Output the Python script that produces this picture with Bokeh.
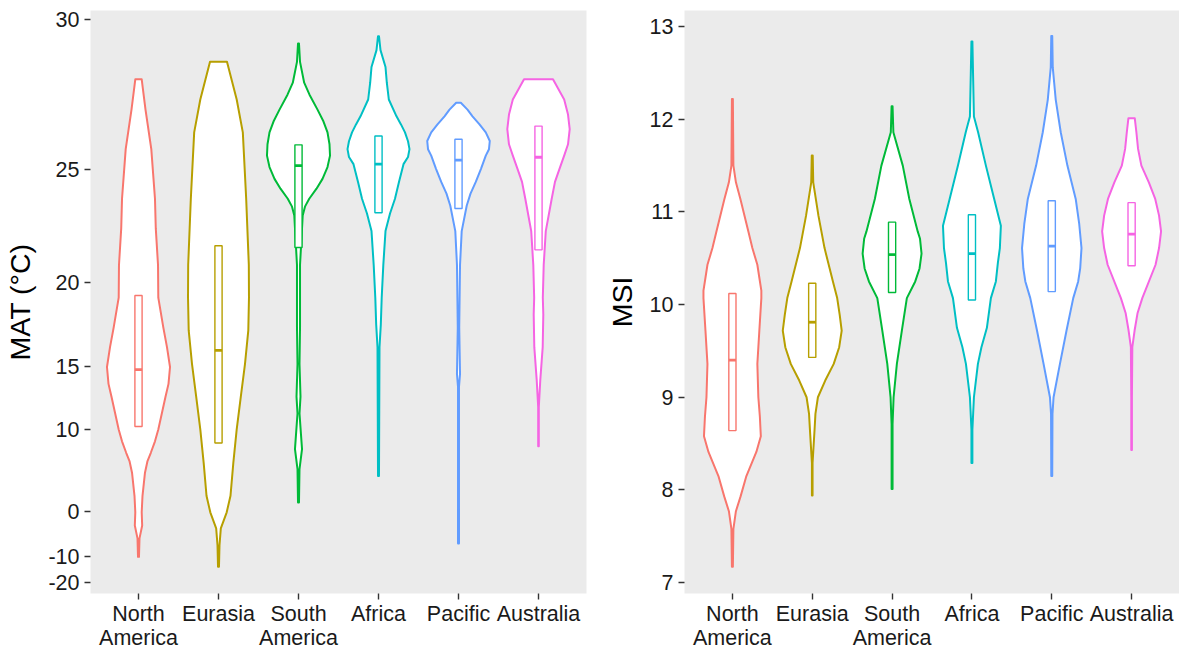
import numpy as np
from bokeh.plotting import figure
from bokeh.layouts import row
from bokeh.models import Range1d, FixedTicker, CustomJSTickFormatter
from bokeh.embed import file_html
from bokeh.resources import INLINE

# ---------------- data ----------------
REGIONS = ["North America", "Eurasia", "South America", "Africa", "Pacific", "Australia"]
TICK_LABELS = ["North\nAmerica", "Eurasia", "South\nAmerica", "Africa", "Pacific", "Australia"]
COLORS = ["#F8766D", "#B79F00", "#00BA38", "#00BFC4", "#619CFF", "#F564E3"]

MAT_TICKS = [-20, -10, 0, 10, 15, 20, 25, 30]
MSI_TICKS = [7, 8, 9, 10, 11, 12, 13]

# violin outlines: value levels (top -> bottom) and half widths (category units)
NA_mat_y = [28.18, 27.18, 25.78, 23.85, 22.58, 20.87, 19.19, 17.50, 16.28, 14.96, 13.75, 12.77, 9.98, 8.84, 7.67, 6.77, 5.42, 2.38, -0.18, -2.54, -5.21, -9.96]
NA_mat_w = [0.040, 0.0875, 0.160, 0.206, 0.216, 0.244, 0.2475, 0.310, 0.356, 0.394, 0.375, 0.3375, 0.2475, 0.206, 0.154, 0.1125, 0.081, 0.050, 0.040, 0.046, 0.0125, 0.006]
EU_mat_y = [28.73, 27.52, 26.39, 23.85, 20.87, 19.19, 17.32, 15.16, 12.77, 9.98, 6.54, 2.38, -0.18, -3.12, -6.84, -13.17]
EU_mat_w = [0.106, 0.2275, 0.304, 0.346, 0.379, 0.381, 0.3725, 0.331, 0.279, 0.2275, 0.185, 0.150, 0.1025, 0.029, 0.0125, 0.006]
SA_mat_y = [29.29, 28.73, 28.07, 27.68, 27.18, 26.77, 26.39, 25.96, 25.54, 25.11, 24.65, 24.26, 23.85, 23.52, 23.14, 20.87, 17.50, 15.16, 12.77, 11.39, 8.05, 5.86, 1.37]
SA_mat_w = [0.006, 0.019, 0.071, 0.1375, 0.2375, 0.3125, 0.3625, 0.3875, 0.394, 0.3625, 0.300, 0.225, 0.134, 0.081, 0.0525, 0.019, 0.019, 0.0125, 0.025, 0.0125, 0.044, 0.0125, 0.006]
AF_mat_y = [29.51, 29.09, 28.57, 28.07, 27.52, 26.95, 26.67, 26.39, 26.07, 25.78, 25.49, 25.22, 24.53, 23.85, 23.23, 22.46, 20.87, 19.19, 17.68, 16.28, 5.02]
AF_mat_w = [0.006, 0.025, 0.0875, 0.104, 0.129, 0.225, 0.281, 0.331, 0.369, 0.3875, 0.369, 0.3125, 0.256, 0.206, 0.144, 0.0875, 0.060, 0.040, 0.029, 0.0125, 0.006]
PA_mat_y = [27.41, 27.18, 26.95, 26.67, 26.39, 26.08, 25.78, 25.54, 25.04, 24.53, 24.06, 23.56, 22.46, 20.87, 17.50, 14.47, 13.53, -6.43]
PA_mat_w = [0.029, 0.1125, 0.175, 0.2625, 0.341, 0.391, 0.381, 0.341, 0.281, 0.216, 0.150, 0.1025, 0.040, 0.019, 0.009, 0.019, 0.006, 0.006]
AU_mat_y = [28.18, 27.52, 27.01, 26.50, 25.96, 25.54, 25.04, 24.53, 23.85, 22.46, 20.87, 19.19, 18.25, 16.28, 14.04, 11.97, 8.35]
AU_mat_w = [0.181, 0.321, 0.369, 0.390, 0.369, 0.321, 0.2625, 0.206, 0.165, 0.091, 0.065, 0.054, 0.060, 0.0525, 0.0225, 0.004, 0.004]

NA_msi_y = [12.22, 11.86, 11.50, 11.32, 11.14, 10.79, 10.61, 10.43, 10.29, 10.15, 10.07, 9.72, 9.36, 9.00, 8.79, 8.58, 8.41, 8.15, 7.93, 7.77, 7.58, 7.17]
NA_msi_w = [0.006, 0.009, 0.0125, 0.044, 0.100, 0.200, 0.250, 0.3125, 0.3375, 0.3625, 0.3625, 0.3375, 0.3125, 0.325, 0.344, 0.356, 0.300, 0.175, 0.1025, 0.044, 0.0125, 0.006]
EU_msi_y = [11.61, 11.32, 10.96, 10.61, 10.25, 10.07, 9.89, 9.72, 9.54, 9.36, 9.18, 9.00, 8.82, 8.65, 8.29, 7.94]
EU_msi_w = [0.006, 0.0125, 0.0775, 0.154, 0.259, 0.3125, 0.344, 0.369, 0.3375, 0.269, 0.1625, 0.071, 0.040, 0.029, 0.004, 0.004]
SA_msi_y = [12.14, 11.86, 11.50, 11.14, 10.79, 10.71, 10.55, 10.39, 10.25, 10.07, 9.72, 9.36, 9.00, 8.71, 8.01]
SA_msi_w = [0.006, 0.016, 0.134, 0.216, 0.321, 0.350, 0.369, 0.344, 0.290, 0.185, 0.1225, 0.060, 0.019, 0.006, 0.006]
AF_msi_y = [12.84, 12.56, 12.03, 11.86, 11.50, 11.14, 10.98, 10.85, 10.61, 10.45, 10.25, 10.07, 9.75, 9.54, 9.36, 9.00, 8.65, 8.29]
AF_msi_w = [0.006, 0.0125, 0.025, 0.0775, 0.175, 0.279, 0.325, 0.3625, 0.350, 0.325, 0.300, 0.2375, 0.1875, 0.119, 0.075, 0.025, 0.006, 0.006]
PA_msi_y = [12.90, 12.56, 12.21, 11.86, 11.50, 11.14, 10.87, 10.61, 10.39, 10.25, 10.07, 9.72, 9.36, 9.00, 8.82, 8.15]
PA_msi_w = [0.006, 0.0125, 0.050, 0.1125, 0.196, 0.300, 0.344, 0.3725, 0.356, 0.331, 0.269, 0.185, 0.1025, 0.0225, 0.009, 0.006]
AU_msi_y = [12.01, 11.86, 11.68, 11.50, 11.32, 11.14, 10.96, 10.79, 10.61, 10.43, 10.07, 9.91, 9.72, 9.54, 9.00, 8.43]
AU_msi_w = [0.040, 0.060, 0.081, 0.1225, 0.216, 0.296, 0.344, 0.369, 0.344, 0.300, 0.134, 0.075, 0.0375, 0.009, 0.004, 0.004]

# box (quartiles and median)
MAT_lower = [10.25, 8.68, 21.71, 23.26, 23.44, 21.60]
MAT_median = [14.77, 16.07, 25.16, 25.22, 25.37, 25.48]
MAT_upper = [19.31, 21.79, 25.94, 26.26, 26.14, 26.61]
MSI_lower = [8.64, 9.43, 10.13, 10.05, 10.14, 10.42]
MSI_median = [9.40, 9.81, 10.54, 10.55, 10.63, 10.76]
MSI_upper = [10.12, 10.23, 10.89, 10.97, 11.12, 11.10]

MAT_profiles = [(NA_mat_y, NA_mat_w), (EU_mat_y, EU_mat_w), (SA_mat_y, SA_mat_w),
                (AF_mat_y, AF_mat_w), (PA_mat_y, PA_mat_w), (AU_mat_y, AU_mat_w)]
MSI_profiles = [(NA_msi_y, NA_msi_w), (EU_msi_y, EU_msi_w), (SA_msi_y, SA_msi_w),
                (AF_msi_y, AF_msi_w), (PA_msi_y, PA_msi_w), (AU_msi_y, AU_msi_w)]

# exponential y scale of the MAT panel
BASE = 1.06


def exp_tf(v):
    return list(BASE ** np.asarray(v, dtype=float))


def ident(v):
    return list(np.asarray(v, dtype=float))


FONT = "Liberation Sans"


def make_panel(profiles, lower, median, upper, tf, y_range, ticks, ylabel,
               width, border_left, border_right, formatter=None):
    p = figure(width=width, height=652, x_range=Range1d(0.4, 6.6), y_range=y_range,
               output_backend="svg", toolbar_location=None,
               min_border_left=border_left, min_border_right=border_right,
               min_border_top=10, min_border_bottom=40)
    p.background_fill_color = "#EBEBEB"
    p.border_fill_color = "white"
    p.outline_line_color = None
    p.grid.visible = False

    for i, (ys, ws) in enumerate(profiles):
        c = i + 1
        xs = [c + w for w in ws] + [c - w for w in ws[::-1]]
        yy = tf(ys) + tf(ys[::-1])
        p.patch(xs, yy, fill_color="white", line_color=COLORS[i], line_width=2,
                line_join="round")

    cx = [i + 1 for i in range(len(REGIONS))]
    bw = 0.045
    p.quad(left=[c - bw for c in cx], right=[c + bw for c in cx],
           bottom=tf(lower), top=tf(upper), fill_color="white",
           line_color=COLORS, line_width=1.4)
    p.segment(x0=[c - bw for c in cx], x1=[c + bw for c in cx],
              y0=tf(median), y1=tf(median), line_color=COLORS, line_width=2.8)

    p.xaxis.ticker = FixedTicker(ticks=cx)
    p.xaxis.major_label_overrides = {c: lab for c, lab in zip(cx, TICK_LABELS)}
    p.yaxis.ticker = FixedTicker(ticks=tf(ticks))
    if formatter is not None:
        p.yaxis.formatter = formatter
    for ax in p.axis:
        ax.axis_line_color = None
        ax.major_tick_line_color = "#333333"
        ax.major_tick_line_width = 1.4
        ax.major_tick_out = 6
        ax.major_tick_in = 0
        ax.minor_tick_line_color = None
        ax.major_label_text_font = FONT
        ax.major_label_text_font_size = "21.5px"
        ax.major_label_text_color = "#1A1A1A"
        ax.major_label_standoff = 5
    p.xaxis.major_label_standoff = 2
    p.xaxis.major_label_text_line_height = 1.0
    p.yaxis.axis_label = ylabel
    p.yaxis.axis_label_text_font = FONT
    p.yaxis.axis_label_text_font_size = "28.5px"
    p.yaxis.axis_label_text_font_style = "normal"
    p.yaxis.axis_label_text_color = "black"
    p.yaxis.axis_label_standoff = 9
    return p


mat_fmt = CustomJSTickFormatter(code="return Math.round(Math.log(tick)/Math.log(1.06)).toString();")
p1 = make_panel(MAT_profiles, MAT_lower, MAT_median, MAT_upper, exp_tf,
                Range1d(0.2063, 5.829), MAT_TICKS, "MAT (°C)", 596, 90, 10, mat_fmt)
p2 = make_panel(MSI_profiles, MSI_lower, MSI_median, MSI_upper, ident,
                Range1d(6.882, 13.174), MSI_TICKS, "MSI", 583, 88, 0)

layout = row(p1, p2)
open("out.html", "w").write(file_html(layout, INLINE))
